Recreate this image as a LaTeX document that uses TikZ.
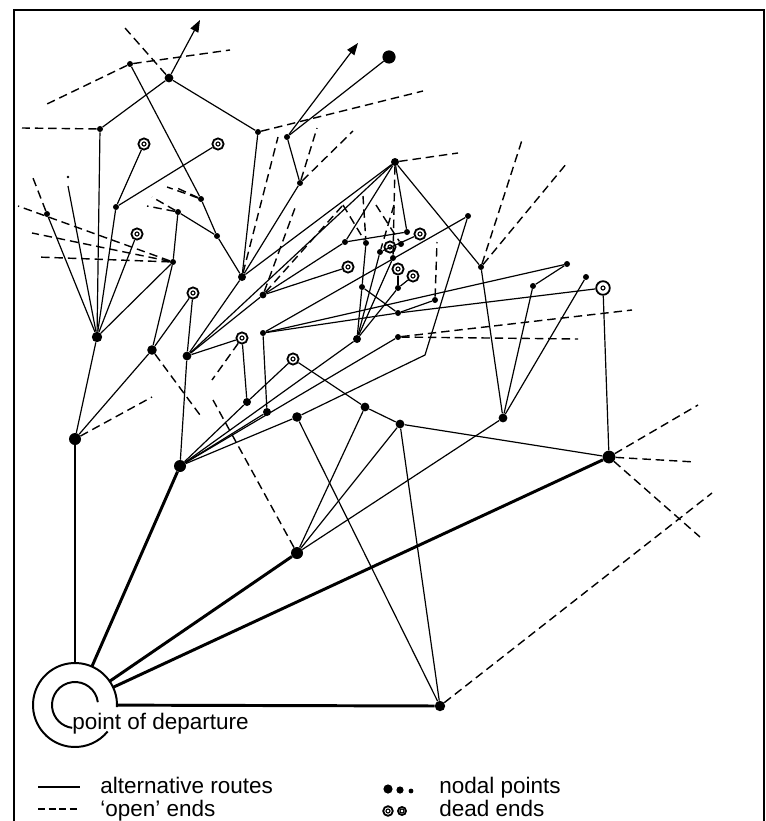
\documentclass[tikz,border=0pt]{standalone}
\usepackage{fontspec}
\setmainfont{Liberation Sans}
\usetikzlibrary{arrows.meta}
\tikzset{
  nodal/.style={circle, fill, inner sep=0pt, minimum size=#1},
  nodal/.default=0.15cm,
  deadend/.style={circle, draw, line width=1.3pt, inner sep=0pt, minimum size=#1,
    path picture={\draw[line width=0.8pt] (path picture bounding box.center) circle (0.05cm);}},
  deadend/.default=0.28cm,
  route/.style={line width=0.85pt},
  mainroute/.style={line width=2.1pt},
  openend/.style={line width=1pt, dash pattern=on 6pt off 3.5pt},
  onward/.style={route, -{Triangle[length=0.3cm,width=0.22cm]}},
  legendtext/.style={anchor=base west, inner sep=0pt, font=\fontsize{16}{17}\selectfont},
}
\begin{document}
\begin{tikzpicture}[x=0.025cm, y=-0.025cm]
  \useasboundingbox (0,0) rectangle (766,821);
  \draw[line width=1.6pt] (14,821) -- (14,10) -- (764,10) -- (764,821);
  \path
    (169,78) node[nodal=0.22cm] (a) {}
    (130,64) node[nodal] (b) {}
    (100,129) node[nodal] (c) {}
    (258,132) node[nodal] (e) {}
    (287,137) node[nodal] (f) {}
    (389,57) node[nodal=0.33cm] (g) {}
    (300,183) node[nodal] (i) {}
    (144,144) node[deadend] (r1) {}
    (218,144) node[deadend] (r2) {}
    (116,207) node[nodal] (k) {}
    (47,214) node[nodal] (l) {}
    (137,234) node[deadend] (r3) {}
    (173,262) node[nodal] (m) {}
    (97,337) node[nodal=0.26cm] (d) {}
    (152,350) node[nodal=0.24cm] (n) {}
    (193,293) node[deadend] (r4) {}
    (75,439) node[nodal=0.3cm] (o) {}
    (178,212) node[nodal] (u1) {}
    (201,199) node[nodal] (u2) {}
    (217,236) node[nodal] (u3) {}
    (242,277) node[nodal=0.2cm] (h1) {}
    (263,295) node[nodal=0.17cm] (j) {}
    (187,356) node[nodal=0.22cm] (h2) {}
    (242,338) node[deadend] (r5) {}
    (180,466) node[nodal=0.3cm] (p) {}
    (247,402) node[nodal=0.2cm] (y) {}
    (263,333) node[nodal] (zt) {}
    (267,412) node[nodal=0.2cm] (z) {}
    (293,359) node[deadend] (r12) {}
    (297,417) node[nodal=0.24cm] (xx) {}
    (297,553) node[nodal=0.3cm] (h3) {}
    (395,162) node[nodal=0.2cm] (q) {}
    (345,242) node[nodal] (s) {}
    (366,243) node[nodal] (s2) {}
    (407,232) node[nodal] (s3) {}
    (420,234) node[deadend] (r6) {}
    (380,252) node[nodal] (c1) {}
    (390,247) node[deadend] (r7) {}
    (401,244) node[nodal] (c2) {}
    (393,258) node[nodal] (c3) {}
    (398,269) node[deadend] (r8) {}
    (413,276) node[deadend] (r9) {}
    (398,288) node[nodal] (c4) {}
    (348,267) node[deadend] (r10) {}
    (362,287) node[nodal] (v) {}
    (435,300) node[nodal] (c5) {}
    (398,313) node[nodal] (c6) {}
    (468,216) node[nodal] (c7) {}
    (357,339) node[nodal=0.2cm] (w) {}
    (398,337) node[nodal] (c8) {}
    (365,407) node[nodal=0.22cm] (t1) {}
    (400,424) node[nodal=0.22cm] (t2) {}
    (503,418) node[nodal=0.22cm] (t3) {}
    (440,706) node[nodal=0.26cm] (bt) {}
    (609,457) node[nodal=0.32cm] (rr) {}
    (481,267) node[nodal] (uu) {}
    (567,264) node[nodal] (g1) {}
    (533,286) node[nodal] (g2) {}
    (586,277) node[nodal] (g3) {}
    (603,288) node[deadend=0.34cm] (r11) {}
    (68,177) node[nodal=0.07cm] (speck) {};
  \node[circle, minimum size=2.1cm, inner sep=0pt] (dep) at (75,705) {};
  \draw[line width=1.4pt] (dep.center) ++(-3:1.05cm) arc[start angle=-3, end angle=321, radius=1.05cm];
  \draw[line width=1.4pt] (dep.center) ++(7:0.575cm) arc[start angle=7, end angle=263, radius=0.575cm];
  \node[legendtext] (deptext) at (72,729) {point of departure};
  \path
    (200,20) coordinate (tipa)
    (358,43) coordinate (tipf)
    (68,186) coordinate (lt)
    (425,355) coordinate (bend)
    (22,128) coordinate (oe1)
    (47,104) coordinate (oe2)
    (230,50) coordinate (oe3)
    (125,28) coordinate (oe4)
    (423,91) coordinate (oe5)
    (317,128) coordinate (oe6)
    (353,131) coordinate (oe7)
    (278,137) coordinate (oe8)
    (295,208) coordinate (oe9)
    (343,205) coordinate (oe10)
    (33,178) coordinate (oe11)
    (18,206) coordinate (oe12)
    (32,233) coordinate (oe13)
    (37,257) coordinate (oe14)
    (147,206) coordinate (oe15)
    (152,197) coordinate (oe16)
    (167,187) coordinate (oe17)
    (177,188) coordinate (oe18)
    (200,415) coordinate (oe19)
    (152,397) coordinate (oe20)
    (212,380) coordinate (oe21)
    (213,400) coordinate (oe22)
    (458,153) coordinate (oe23)
    (523,137) coordinate (oe24)
    (567,163) coordinate (oe25)
    (578,339) coordinate (oe26)
    (632,310) coordinate (oe27)
    (437,242) coordinate (oe28)
    (698,405) coordinate (oe29)
    (695,462) coordinate (oe30)
    (700,537) coordinate (oe31)
    (712,493) coordinate (oe32)
    (363,196) coordinate (oe33)
    (376,205) coordinate (oe34)
    (394,205) coordinate (oe35);
  \begin{scope}[mainroute]
    \draw (dep) to (o);
    \draw (dep) to (p);
    \draw (dep) to (h3);
    \draw (dep) to (rr);
    \draw (dep) to (bt);
  \end{scope}
  \begin{scope}[onward]
    \draw (a) to (tipa);
    \draw (f) to (tipf);
  \end{scope}
  \begin{scope}[route]
    \draw (c) to (a);
    \draw (a) to (e);
    \draw (c) to (d);
    \draw (b) to (u2);
    \draw (u2) to (u3);
    \draw (u1) to (u3);
    \draw (u3) to (h1);
    \draw (e) to (h1);
    \draw (f) to (g);
    \draw (f) to (i);
    \draw (i) to (h1);
    \draw (k) to (r1);
    \draw (k) to (r2);
    \draw (k) to (d);
    \draw (l) to (d);
    \draw (lt) to (d);
    \draw (r3) to (d);
    \draw (m) to (d);
    \draw (u1) to (m);
    \draw (m) to (n);
    \draw (n) to (r4);
    \draw (n) to (o);
    \draw (o) to (d);
    \draw (h2) to (r4);
    \draw (h2) to (p);
    \draw (h2) to (h1);
    \draw (h2) to (r5);
    \draw (h2) to (q);
    \draw (h1) to (q);
    \draw (h2) to (j);
    \draw (j) to (r10);
    \draw (j) to (s);
    \draw (q) to (s);
    \draw (q) to (s3);
    \draw (q) to (uu);
    \draw (s) to (s3);
    \draw (s2) to (v);
    \draw (v) to (w);
    \draw (v) to (c6);
    \draw (r8) to (c4);
    \draw (c4) to (r9);
    \draw (c4) to (w);
    \draw (w) to (c1);
    \draw (w) to (c3);
    \draw (c1) to (r6);
    \draw (c7) -- (bend) -- (xx);
    \draw (c7) to (zt);
    \draw (zt) to (z);
    \draw (zt) to (g1);
    \draw (zt) to (c6);
    \draw (c6) to (r11);
    \draw (c6) to (c5);
    \draw (r5) to (y);
    \draw (p) to (y);
    \draw (y) to (r12);
    \draw (p) to (z);
    \draw (p) to (xx);
    \draw (p) to (w);
    \draw (p) to (c8);
    \draw (r12) to (t1);
    \draw (t1) to (t2);
    \draw (t2) to (rr);
    \draw (t2) to (bt);
    \draw (xx) to (bt);
    \draw (h3) to (t1);
    \draw (h3) to (t2);
    \draw (h3) to (t3);
    \draw (t3) to (uu);
    \draw (t3) to (g2);
    \draw (t3) to (g3);
    \draw (g2) to (g1);
    \draw (r11) to (rr);
  \end{scope}
  \begin{scope}[openend]
    \draw (c) to (oe1);
    \draw (b) to (oe2);
    \draw (b) to (oe3);
    \draw (a) to (oe4);
    \draw (e) to (oe5);
    \draw (i) to (oe6);
    \draw (i) to (oe7);
    \draw (h1) to (oe8);
    \draw (j) to (oe9);
    \draw (j) to (oe10);
    \draw (l) to (oe11);
    \draw (m) to (oe12);
    \draw (m) to (oe13);
    \draw (m) to (oe14);
    \draw (u1) to (oe15);
    \draw (u1) to (oe16);
    \draw (u2) to (oe17);
    \draw (u2) to (oe18);
    \draw (n) to (oe19);
    \draw (o) to (oe20);
    \draw (r5) to (oe21);
    \draw (h3) to (oe22);
    \draw (q) to (oe23);
    \draw (uu) to (oe24);
    \draw (uu) to (oe25);
    \draw (c8) to (oe26);
    \draw (c8) to (oe27);
    \draw (c5) to (oe28);
    \draw (rr) to (oe29);
    \draw (rr) to (oe30);
    \draw (rr) to (oe31);
    \draw (bt) to (oe32);
    \draw (oe10) to (s2);
    \draw (oe33) to (s2);
    \draw (oe34) to (c2);
    \draw (oe35) to (c1);
    \draw (q) to (c3);
  \end{scope}
  \path
    (38,787) coordinate (ls1) (80,787) coordinate (ls2)
    (38,809) coordinate (ld1) (80,809) coordinate (ld2);
  \draw[line width=1.6pt] (ls1) -- (ls2);
  \draw[line width=1.6pt, dash pattern=on 5pt off 2.5pt] (ld1) -- (ld2);
  \node[nodal=0.23cm] (key1) at (388,789) {};
  \node[nodal=0.18cm] (key2) at (400,790) {};
  \node[nodal=0.12cm] (key3) at (411,791) {};
  \node[deadend=0.24cm] (key4) at (388,811) {};
  \node[deadend=0.2cm] (key5) at (402,811) {};
  \node[legendtext] (keytext1) at (100,793) {alternative routes};
  \node[legendtext] (keytext2) at (100,816) {`open' ends};
  \node[legendtext] (keytext3) at (439,793) {nodal points};
  \node[legendtext] (keytext4) at (439,816) {dead ends};
\end{tikzpicture}
\end{document}
